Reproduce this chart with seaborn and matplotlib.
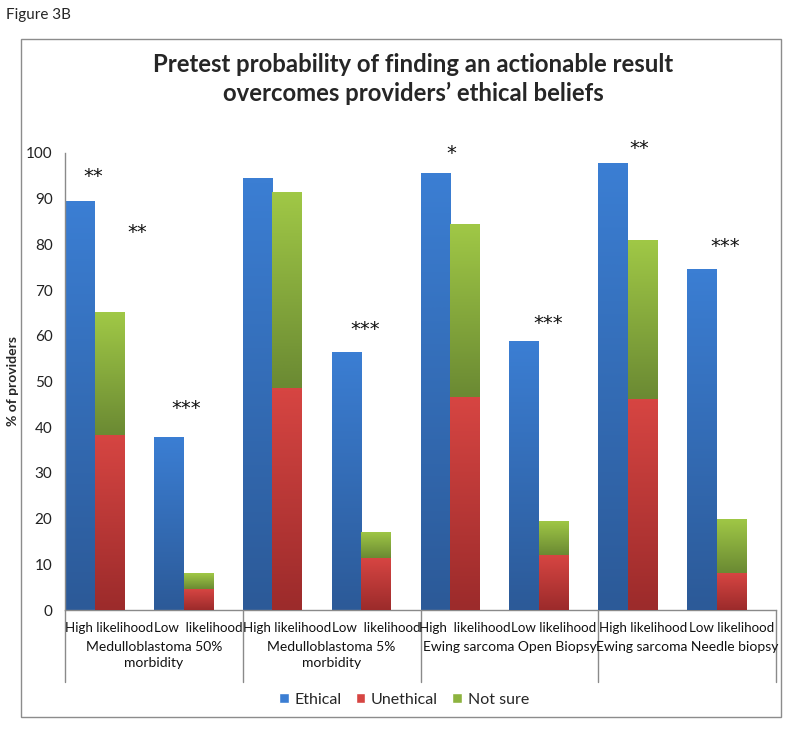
import numpy as np
import pandas as pd
import matplotlib
matplotlib.use("Agg")
import matplotlib.pyplot as plt
import matplotlib.transforms as mtransforms
from matplotlib.colors import LinearSegmentedColormap
from matplotlib.patches import Patch, Rectangle
import seaborn as sns

# Chart data
groups = ["Medulloblastoma 50%\nmorbidity", "Medulloblastoma 5%\nmorbidity",
          "Ewing sarcoma Open Biopsy", "Ewing sarcoma Needle biopsy"]
sub_labels = ["High likelihood", "Low  likelihood",
              "High likelihood", "Low  likelihood",
              "High  likelihood", "Low likelihood",
              "High likelihood", "Low likelihood"]
ethical = [89.4, 37.8, 94.5, 56.5, 95.6, 58.8, 97.8, 74.6]
unethical = [38.3, 4.5, 48.5, 11.3, 46.5, 12.0, 46.1, 8.0]
not_sure = [26.9, 3.5, 43.0, 5.7, 38.0, 7.5, 34.8, 11.9]

# significance markers
star_text = ["**", "**", "***", "***", "*", "***", "**", "***"]
star_x = [0.32, 0.81, 1.36, 3.38, 4.35, 5.44, 6.46, 7.43]
star_y = [94.8, 82.5, 44.2, 61.3, 99.8, 62.8, 100.9, 79.5]

blue = ("#2c5a98", "#3b7ed3")
red = ("#9c2b2b", "#d64542")
green = ("#6b8a33", "#a0c846")

sns.set_style("white")
plt.rcParams['font.family'] = ['Lato', 'DejaVu Sans']

n = len(ethical)
pos = np.arange(n)
bw = 1 / 3
df = pd.DataFrame({
    "x_eth": pos + bw / 2,
    "x_stack": pos + bw * 1.5,
    "ethical": ethical,
    "unethical": unethical,
    "total": np.array(unethical) + np.array(not_sure),
})

fig = plt.figure(figsize=(8, 7.31), dpi=100)
ax = fig.add_axes([65 / 800, 1 - 610 / 731, 711 / 800, 457 / 731])

sns.barplot(data=df, x="x_eth", y="ethical", native_scale=True, width=bw,
            color=blue[1], saturation=1, errorbar=None, ax=ax)
sns.barplot(data=df, x="x_stack", y="total", native_scale=True, width=bw,
            color=green[1], saturation=1, errorbar=None, ax=ax)
sns.barplot(data=df, x="x_stack", y="unethical", native_scale=True, width=bw,
            color=red[1], saturation=1, errorbar=None, ax=ax)

# Excel-like vertical gradient on each bar segment
grad = np.linspace(0, 1, 64).reshape(-1, 1)
z = 2.0
for k, (cont, cols) in enumerate(zip(ax.containers, [blue, green, red])):
    cmap = LinearSegmentedColormap.from_list("g%d" % k, list(cols))
    for j, p in enumerate(cont.patches):
        x0 = p.get_x()
        x1 = x0 + p.get_width()
        y1 = p.get_y() + p.get_height()
        y0 = unethical[j] if k == 1 else 0
        p.set_edgecolor("none")
        p.set_zorder(z)
        im = ax.imshow(grad, extent=[x0, x1, y0, y1], origin="lower", cmap=cmap,
                       aspect="auto", zorder=z + 0.01, interpolation="bilinear")
        im.set_clip_path(p)
        z += 0.1

ax.set_xlim(0, n)
ax.set_ylim(0, 100)
ax.set_yticks(range(0, 101, 10))
ax.set_xticks([])
ax.set_xlabel("")
ax.tick_params(axis="y", length=0, pad=9, labelsize=11, labelcolor="#222222")
ax.set_ylabel("% of providers", fontsize=10, fontweight="bold")
ax.yaxis.set_label_coords(-0.065, 0.5)
for s in ["top", "right"]:
    ax.spines[s].set_visible(False)
for s in ["left", "bottom"]:
    ax.spines[s].set_color("#8a8a8a")
    ax.spines[s].set_linewidth(1)

# multi-level category labels
trans = mtransforms.blended_transform_factory(ax.transData, ax.transAxes)
for i, lab in enumerate(sub_labels):
    ax.text(i + 0.5, -0.040, lab, transform=trans, ha="center", va="center",
            fontsize=9.6, color="#111111")
for g, lab in enumerate(groups):
    ax.text(g * 2 + 1, -0.068, lab, transform=trans, ha="center", va="top",
            fontsize=10, color="#111111", linespacing=1.4)
for b in range(0, n + 1, 2):
    ax.plot([b, b], [0, -0.158], transform=trans, color="#8a8a8a", lw=1,
            clip_on=False)

for t, x, y in zip(star_text, star_x, star_y):
    ax.text(x, y, t, ha="center", va="center", fontsize=14,
            family="DejaVu Sans", color="#111111")

# title and labels
fig.text(0.008, 1 - 15 / 731, "Figure 3B", fontsize=11, va="center", ha="left")
fig.text(413 / 800, 1 - 79 / 731,
         "Pretest probability of finding an actionable result\novercomes providers\u2019 ethical beliefs",
         ha="center", va="center", fontsize=17.2, fontweight="bold", linespacing=1.3)

handles = [Patch(facecolor=blue[1], label="Ethical"),
           Patch(facecolor=red[1], label="Unethical"),
           Patch(facecolor="#8db33f", label="Not sure")]
fig.legend(handles=handles, loc="center", bbox_to_anchor=(0.505, 1 - 700 / 731),
           ncol=3, frameon=False, fontsize=11.5, handlelength=0.6, handleheight=0.6,
           handletextpad=0.35, columnspacing=0.9)

fig.patches.append(Rectangle((21 / 800, 1 - 717 / 731), 760 / 800, 678 / 731,
                             transform=fig.transFigure, fill=False,
                             edgecolor="#8c8c8c", lw=1))

fig.savefig("out.png", dpi=100)
